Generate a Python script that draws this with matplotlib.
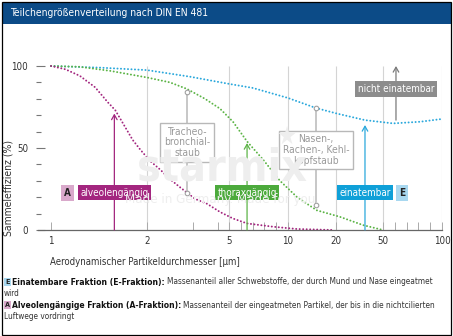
import numpy as np
import matplotlib
matplotlib.use('Agg')
import matplotlib.pyplot as plt
from matplotlib.patches import Rectangle
from matplotlib.lines import Line2D

# ---------------- data ----------------
alv_x = [1, 1.15, 1.3, 1.46, 1.59, 1.67, 1.77, 1.85, 1.93, 2.07, 2.28, 2.5, 2.72, 3.08, 3.56, 4.18, 5.34, 6.53, 8.73, 11.9, 19.4]
alv_y = [100, 98, 94, 87, 78, 73, 63, 55, 49, 42, 37, 31, 26, 19, 16, 11, 7, 4, 2, 0.6, 0]
tho_x = [1, 1.3, 1.62, 2, 2.5, 2.87, 3.48, 4.18, 5.34, 6.53, 7.88, 9.32, 11.9, 16.0, 22.6, 37.2, 50]
tho_y = [100, 99.5, 97, 93, 90, 86, 80, 74, 66, 54, 43, 30, 20, 12, 8, 3, 0]
ein_x = [1, 1.51, 2, 2.93, 5.08, 7.03, 10, 15.8, 20.6, 38.5, 58.5, 81.4, 100]
ein_y = [100, 99, 97.5, 93.5, 89, 86.6, 80.5, 74.4, 71, 67, 65, 66, 67.7]

x_ticks = [1, 2, 5, 10, 20, 50, 100]
x_tick_labels = ['1', '2', '5', '10', '20', '50', '100']
x_minor = [3, 4, 6, 7, 8, 9, 60, 70, 80, 90]
y_ticks = [0, 50, 100]
y_minor = [10, 20, 30, 40, 60, 70, 80, 90]

alv_arrow = (1.66, 71)
tho_arrow = (6.53, 53)
ein_arrow = (38.5, 64)
nicht_arrow = (61, 67, 100)
label_y = 22.6
tb_conn = (2.87, 84, 22.5)
nrk_conn = (15.8, 74.4, 15)

knot_vals = [1, 2, 3, 4, 5, 10, 20, 50, 100]
knot_pos = [0, 96, 142, 167, 178, 237, 285, 332, 391]

# ---------------- style ----------------
PURPLE = '#a3267f'
PURPLE_L = '#d9a9cb'
GREEN = '#5cb446'
GREEN_BOX = '#4caa3c'
BLUE = '#2aa8dc'
BLUE_BOX = '#0fa0d8'
BLUE_L = '#a8d8f0'
GREY_BOX = '#8c8c8c'
GREY_LINE = '#7a7a7a'
LIGHT = '#b8b8b8'
HEADER = '#0c4b87'

plt.rcParams['font.family'] = ['DejaVu Sans']
plt.rcParams['font.stretch'] = 'condensed'

W, H = 453, 336
fig = plt.figure(figsize=(W / 100, H / 100), dpi=100)
fig.patch.set_facecolor('white')


def fx(px):
    return px / W


def fy(py):
    return 1 - py / H


fig.patches.append(Rectangle((fx(3), fy(24)), fx(448), 21 / H, transform=fig.transFigure,
                             facecolor=HEADER, edgecolor='none', zorder=0))
fig.text(fx(10), fy(13.5), 'Teilchengrößenverteilung nach DIN EN 481', color='white',
         fontsize=7.4, va='center', ha='left')
fig.patches.append(Rectangle((fx(1.5), fy(334.5)), fx(449.5), 333 / H, transform=fig.transFigure,
                             facecolor='none', edgecolor='black', lw=0.9, zorder=0))

WM = '#eeeeee'
fig.text(fx(222), fy(168), 'starmix', color=WM, fontsize=32, fontweight='bold',
         ha='center', va='center', zorder=0.1)
fig.text(fx(222), fy(200), 'Made in Germany. Made for you.', color=WM, fontsize=9.5,
         ha='center', va='center', zorder=0.1)
fig.text(fx(287), fy(137), '★', color=WM, fontsize=18, ha='center', va='center', zorder=0.1)

ax = fig.add_axes([fx(51), fy(230), 391 / W, 164 / H])
ax.patch.set_alpha(0)


def fwd(x):
    return np.interp(np.asarray(x, dtype=float), knot_vals, knot_pos)


def inv(p):
    return np.interp(np.asarray(p, dtype=float), knot_pos, knot_vals)


ax.set_xscale('function', functions=(fwd, inv))
ax.set_xlim(1, 100)
ax.set_ylim(0, 100)
for s in ax.spines.values():
    s.set_visible(False)

ax.set_xticks(x_ticks)
ax.set_xticklabels(x_tick_labels)
ax.set_xticks(x_minor, minor=True)
ax.tick_params(axis='x', which='both', direction='in', length=5.5, width=0.7,
               color='#aaaaaa', pad=4, labelsize=7, labelcolor='#333333')
ax.set_yticks(y_ticks)
ax.set_yticks(y_minor, minor=True)
ax.spines['left'].set_position(('outward', 11))
ax.tick_params(axis='y', which='major', direction='in', length=6.5, width=0.8,
               color='#777777', pad=5.5, labelsize=7, labelcolor='#333333')
ax.tick_params(axis='y', which='minor', direction='in', length=3.8, width=0.8,
               color='#777777')

ax.vlines(x_ticks[1:], 0, 100, color='#d4d4d4', lw=0.8, zorder=0.5)
ax.add_line(Line2D([-13 / 391, 1], [0, 0], transform=ax.transAxes, color='#666666',
                   lw=0.9, clip_on=False, zorder=3))

dot = (0, (0.05, 1.75))
for xs, ys, c in [(ein_x, ein_y, BLUE), (tho_x, tho_y, GREEN), (alv_x, alv_y, PURPLE)]:
    ax.plot(xs, ys, color=c, lw=1.4, linestyle=dot, dash_capstyle='round',
            clip_on=False, zorder=2)

ap = dict(arrowstyle='->,head_length=0.35,head_width=0.2', lw=0.9, shrinkA=0, shrinkB=0)
for (xa, ya), c in [(alv_arrow, PURPLE), (tho_arrow, GREEN), (ein_arrow, BLUE)]:
    ax.annotate('', xy=(xa, ya), xytext=(xa, 0), arrowprops=dict(ap, color=c),
                annotation_clip=False, zorder=3)
ax.annotate('', xy=(nicht_arrow[0], nicht_arrow[2]), xytext=(nicht_arrow[0], nicht_arrow[1]),
            arrowprops=dict(ap, color=GREY_LINE), annotation_clip=False, zorder=3)

for xc, top, bot in [tb_conn, nrk_conn]:
    ax.plot([xc, xc], [bot, top], color=LIGHT, lw=1.1, zorder=2.5, clip_on=False)
    ax.plot([xc, xc], [bot, top], ls='none', marker='o', ms=3.3, mfc='white', mec='#a0a0a0',
            mew=0.8, zorder=4, clip_on=False)


def lbox(x, y, s, fc, tc='white', weight='normal', pad=0.25, size=7.1):
    ax.text(x, y, s, ha='center', va='center', color=tc, fontsize=size, fontweight=weight,
            bbox=dict(boxstyle=f'square,pad={pad}', fc=fc, ec='none'), zorder=5)


lbox(alv_arrow[0], label_y, 'alveolengängig', PURPLE)
lbox(1.172, label_y, 'A', PURPLE_L, tc='#222222', weight='bold', pad=0.3)
lbox(tho_arrow[0], label_y, 'thoraxgängig', GREEN_BOX)
lbox(ein_arrow[0], label_y, 'einatembar', BLUE_BOX)
lbox(66.1, label_y, 'E', BLUE_L, tc='#222222', weight='bold', pad=0.3)
lbox(nicht_arrow[0], 85.7, 'nicht einatembar', GREY_BOX, pad=0.3)

ax.text(tb_conn[0], 53.4, 'Tracheo-\nbronchial-\nstaub', ha='center', va='center',
        color='#9a9a9a', fontsize=7.4, linespacing=1.1, zorder=5,
        bbox=dict(boxstyle='square,pad=0.35', fc='white', ec=LIGHT, lw=1.0))
ax.text(nrk_conn[0], 48.8, 'Nasen-,\nRachen-, Kehl-\nkopfstaub', ha='center', va='center',
        color='#9a9a9a', fontsize=7.4, linespacing=1.1, zorder=5,
        bbox=dict(boxstyle='square,pad=0.35', fc='white', ec=LIGHT, lw=1.0))

fig.text(fx(9), fy(188), 'Sammeleffizienz (%)', rotation=90, ha='center', va='center',
         fontsize=7.5, color='#333333')
fig.text(fx(50), fy(262), 'Aerodynamischer Partikeldurchmesser [µm]', ha='left', va='center',
         fontsize=6.9, color='#333333')

renderer = fig.canvas.get_renderer()


def rich(x_px, y_px, parts):
    x = x_px
    for s, w, c, size in parts:
        t = fig.text(fx(x), fy(y_px), s, ha='left', va='center', fontsize=size,
                     fontweight=w, color=c)
        bb = t.get_window_extent(renderer)
        x += bb.width + 2.2


def keybox(x_px, y_px, s, fc):
    fig.text(fx(x_px), fy(y_px), s, ha='center', va='center', fontsize=5.2, fontweight='bold',
             color='#222222', bbox=dict(boxstyle='square,pad=0.15', fc=fc, ec='none'))


keybox(7.5, 282, 'E', BLUE_L)
rich(12, 282, [('Einatembare Fraktion (E-Fraktion):', 'bold', '#111111', 6.2),
               ('Massenanteil aller Schwebstoffe, der durch Mund und Nase eingeatmet',
                'normal', '#333333', 5.95)])
rich(4, 293.5, [('wird', 'normal', '#333333', 5.95)])
keybox(7.5, 305, 'A', PURPLE_L)
rich(12, 305, [('Alveolengängige Fraktion (A-Fraktion):', 'bold', '#111111', 6.1),
               ('Massenanteil der eingeatmeten Partikel, der bis in die nichtcilierten',
                'normal', '#333333', 5.95)])
rich(4, 316.5, [('Luftwege vordringt', 'normal', '#333333', 5.95)])

fig.savefig('out.png', dpi=100)
